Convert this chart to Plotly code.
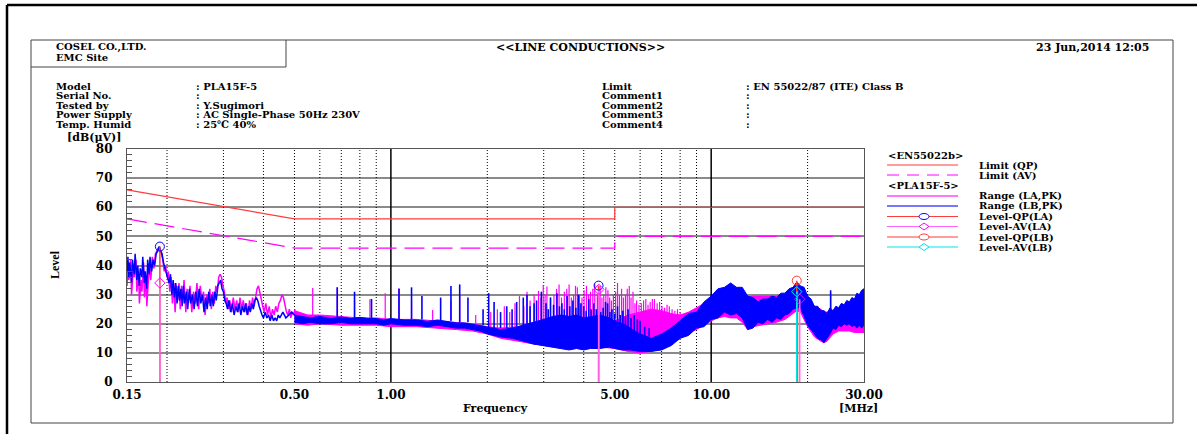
import math
import plotly.graph_objects as go

# ---------------- data ----------------
# limits EN55022 class B
lim_qp_f = [0.15, 0.5, 5.0, 5.0, 30.0]
lim_qp_v = [66, 56, 56, 60, 60]
lim_av_f = [0.15, 0.5, 5.0, 5.0, 30.0]
lim_av_v = [56, 46, 46, 50, 50]

# LB (blue) low-frequency trace 0.15-0.5 MHz
lb_zz_f = [0.150,0.151,0.152,0.153,0.155,0.156,0.158,0.159,0.161,0.162,
           0.164,0.165,0.167,0.168,0.170,0.171,0.173,0.174,0.176,0.177,
           0.179,0.181,0.183,0.185,0.187,0.189,0.191,0.193,0.195,0.197,
           0.199,0.201,0.203,0.205,0.207,0.209,0.211,0.213,0.215,0.217,
           0.219,0.221,0.223,0.225,0.227,0.230,0.232,0.235,0.237,0.240,
           0.243,0.246,0.249,0.252,0.255,0.258,0.261,0.264,0.267,0.270,
           0.273,0.276,0.279,0.282,0.285,0.288,0.291,0.294,0.297,0.300,
           0.303,0.306,0.309,0.312,0.316,0.320,0.324,0.328,0.332,0.336,
           0.340,0.344,0.348,0.352,0.356,0.360,0.364,0.368,0.372,0.376,
           0.380,0.384,0.388,0.392,0.396,0.400,0.405,0.410,0.415,0.420,
           0.425,0.430,0.435,0.440,0.445,0.450,0.460,0.470,0.480,0.490,
           0.500]
lb_zz_v = [38,43,36,41,34,42,37,44,35,40,
           33,39,36,43,34,38,32,42,37,43,
           38,42,40,44,45,46.5,45,44,41,39,
           37,36,34,37,30,35,29,34,27,33,
           28,32,26,33,27,31,25,32,27,30,
           25,31,26,32,27,30,24,29,25,31,
           26,30,26,31,28,33,34,35,32,31,
           28,27,25,28,24,27,23,26,24,27,
           23,26,24,27,23,26,24,27,25,28,
           29,28,26,24,23,22,24,22,23,21,
           23,21,22,21,23,22,24,22,23,24,
           23]

# LA (magenta) low-frequency trace 0.15-0.5 MHz
la_zz_f = [0.150,0.151,0.152,0.154,0.155,0.157,0.158,0.160,0.161,0.163,
           0.164,0.166,0.167,0.169,0.170,0.172,0.173,0.175,0.176,0.178,
           0.180,0.182,0.184,0.186,0.188,0.190,0.192,0.194,0.196,0.198,
           0.200,0.202,0.204,0.206,0.208,0.210,0.212,0.214,0.216,0.218,
           0.220,0.222,0.224,0.226,0.229,0.231,0.234,0.236,0.239,0.242,
           0.245,0.248,0.251,0.254,0.257,0.260,0.263,0.266,0.269,0.272,
           0.275,0.278,0.281,0.284,0.287,0.290,0.293,0.296,0.299,0.302,
           0.305,0.308,0.311,0.314,0.318,0.322,0.326,0.330,0.334,0.338,
           0.342,0.346,0.350,0.354,0.358,0.362,0.366,0.370,0.374,0.378,
           0.382,0.386,0.390,0.394,0.398,0.402,0.407,0.412,0.417,0.422,
           0.427,0.432,0.437,0.442,0.447,0.452,0.457,0.462,0.467,0.472,
           0.477,0.482,0.487,0.492,0.497,0.502]
la_zz_v = [33,40,35,42,30,39,36,42,31,38,
           27,35,31,41,29,36,26,34,40,35,
           43,39,44,45,46,46,44,42,38,40,
           36,38,31,36,27,34,24,33,28,34,
           25,33,27,35,24,32,28,33,24,31,
           27,34,25,33,28,31,23,30,27,32,
           25,31,27,33,31,36,37,36,33,31,
           27,29,25,28,24,29,25,28,24,29,
           25,28,24,27,23,28,25,29,26,30,
           32,33,31,28,26,24,27,23,26,22,
           25,23,26,24,27,28,30,29,26,24,
           23,25,22,24,23,25]

# LB (blue) dense band 0.5-30 MHz: low / high envelope
lb_band_f = [0.50,0.53,0.56,0.60,0.65,0.70,0.75,0.80,0.85,0.90,0.95,1.00,1.10,1.20,1.30,1.40,1.50,1.60,1.70,1.80,
             1.90,2.00,2.10,2.20,2.40,2.60,2.80,3.00,3.20,3.40,3.60,3.80,4.00,4.20,4.50,4.80,5.00,5.30,5.60,6.00,
             6.50,7.00,7.50,8.0,8.5,9.0,9.5,10.0,10.5,11.0,11.5,12.0,12.5,13.0,13.5,14.0,14.5,15.0,15.5,16.0,
             16.5,17.0,17.5,18.0,18.5,19.0,19.5,20.0,20.5,21.0,21.5,22.0,22.5,23.0,23.5,24.0,24.5,25.0,25.5,26.0,
             26.5,27.0,27.5,28.0,28.5,29.0,29.5,30.0]
lb_band_lo = [20.5,20,20.5,20,20,20.5,20,20,20,20,19.5,20,19.5,19.5,19,19.5,19,18.5,18.5,18,
              17.5,16.5,16,15.5,15,14,13,12.5,12,11.5,11,11.5,11,11.5,11.5,12,11.5,11,11,10.5,
              10.5,11,12.5,15,16,18.5,19,21.5,22,24,23,23.5,22,18,18.5,20.5,20,21.5,20.5,22,
              21.5,23,23.5,25,25.5,25.5,22.5,19.5,18,16.5,15,14.5,13.5,15,16.5,18.5,18,19.5,19,20,
              19.5,20,19,19.5,18.5,19.5,18.5,19.5]
lb_band_hi = [23,22.5,22,22.5,21.8,22.3,21.8,22.2,21.8,21.8,21.3,21.8,21.3,21.3,20.8,21.3,20.8,20.3,20.3,19.8,
              19.3,19,18.5,18,18.5,19.5,20.5,21.5,22.5,23,22.5,23,22,22.5,23,22,21,20,18.5,16.5,
              15,16.5,18.5,21,23.5,24,27.5,29.5,32,32.5,34,32.5,32.5,29.5,29,27.5,28.5,28.5,29.5,29,
              30.5,30.5,32,32.5,34.3,33,32.5,29.5,28.5,26,26,24.5,24.5,23.5,25.5,24.5,26,25.5,27,26.5,
              28,27.5,29,28.5,30.5,30,31.5,32]

# LA (magenta) dense band 0.5-30 MHz
la_band_f = [0.50,0.55,0.60,0.70,0.80,0.90,1.00,1.20,1.40,1.60,1.80,2.00,2.20,2.50,2.80,3.00,3.50,4.00,4.50,5.00,
             5.50,6.00,6.50,7.00,7.50,8.00,8.50,9.00,9.50,10.0,10.5,11.0,11.5,12.0,12.5,13.0,13.5,14.0,15.0,16.0,
             17.0,18.0,18.5,19.0,20.0,21.0,22.0,22.5,23.0,24.0,25.0,26.0,27.0,28.0,29.0,30.0]
la_band_lo = [20,19.5,20,19.5,19.5,19.5,19,19,18.5,18,17.5,16.5,15,14,13,12.5,12,11.5,12,11.5,
              10.5,10,10.5,11.5,13,15,17,18,19.5,21,22,22.5,22,22,20.5,18,19,19.5,20,20.5,
              21.5,23.5,24.5,24,19,15.5,14,13.5,14,16.5,17.5,17.5,17.5,17,17,17]
la_band_hi = [24.5,23,23,22.5,22,22,21.5,21.5,21,20.5,20,19,18.5,19,20,21,21,21,21.5,21,
              23,24,25,24.5,23.5,23,24,25.5,27,29,30.5,31.5,32,31.5,30.5,29,29.5,29.5,29.5,29.5,
              30,31.5,32,31.5,28.5,26,25,24,24,24.5,25,25.5,26.5,27.5,28.5,29.5]

# narrow-band spikes (frequency, top, bottom)
lb_spk_f = [0.68,0.77,0.87,1.06,1.16,1.25,1.43,1.54,1.64,1.74,1.94,
            2.02,2.10,2.20,2.30,2.39,2.47,2.59,2.66,2.72,2.80,2.85,2.95,3.05,3.10,3.15,3.22,3.30,3.36,
            3.42,3.48,3.55,3.62,3.70,3.78,3.85,3.92,4.00,4.07,4.15,4.22,4.30,4.38,4.45,4.52,4.60,4.68,
            4.75,4.83,4.90,5.00,5.10,5.20,5.30,5.40,5.50,5.62,5.75,5.88,6.00,6.20,6.40,23.6]
lb_spk_top = [32.5,31,28.5,32,32.5,29.5,29,33,33.5,29,25,
              30.5,27.5,24,26,25,27.5,29,30,26,27,28,31,27,25,29,26.5,30.5,26,
              27,25,29.5,26,28,25.5,30,27,26,24.5,28.5,25,27,25,29,24,25.5,27.5,
              27,24,25,23.5,26,23,24.5,22.5,25,22,23,21.5,21,19,18.5,31.5]
lb_spk_bot = [22,22,22,21.5,21.5,21.5,21,21,20.5,20.5,19.5,
              18.5,18.5,18.5,18.5,18.5,19,19,19,19,19.5,20,20,20,20,20,21,21,21,
              21,21,21,21,21,21,21,21,21,21,21,21,21,21,21,21,21,21,
              21,20.5,20.5,20,19.5,19.5,19,18.5,18.5,17.5,17.5,17,16,15.5,15.5,25]

la_spk_f = [0.57,0.68,0.77,0.86,0.96,1.06,1.16,1.35,1.54,1.64,1.84,
            2.05,2.15,2.26,2.35,2.44,2.52,2.60,2.66,2.72,2.80,2.89,2.94,2.99,3.03,3.07,3.15,3.23,3.29,
            3.35,3.41,3.48,3.54,3.60,3.66,3.72,3.77,3.82,3.88,3.95,4.01,4.08,4.14,4.20,4.27,4.33,4.41,
            4.50,4.56,4.62,4.69,4.76,4.82,4.88,4.95,5.03,5.10,5.17,5.25,5.32,5.40,5.47,5.55,5.62,5.70,
            5.78,5.85,5.95,6.05,6.15,6.25,6.35,6.45,6.55,6.65,6.78,6.90,7.02,7.15,7.28,7.40,7.55,7.70,
            7.85,8.00,23.6]
la_spk_top = [32.3,32.5,28,28.4,30.5,32.2,28,24.7,28,30,23,
              24,25,26,24,27,29.5,26,31,28,30,31.3,29,33.3,30,32.8,29,30,32,
              33.5,29,31,32,33.5,29,30,33,32.5,30,29,31.5,33,30,31,32,33.8,30,
              33,29,30,32.5,31.5,29,28,30,31,34,30,32,29,30,32,33,29,31,
              27,28,26.5,27,28,28.5,26.5,27.5,28.5,28.5,27,27.5,26,25.5,26.5,26,25,24.5,
              25,24,30.5]
la_spk_bot = [22.5,22,22,22,21.5,21.5,21.5,21,21,20.5,20,
              18.5,18.5,18.5,18.5,18.5,19.5,19.5,19.5,19.5,19.5,20.5,20.5,20.5,21,21,21,21,21,
              21,21,21,21,21,21,21,21,21,21,21,21,21,21,21,21,21,21,
              21.5,21.5,21.5,21.5,21.5,21.5,21.5,21.5,22,22,22,22,22,22,22,23,23,23.5,
              23.5,23.5,23.5,24,24,24.5,24.5,25,25,25,24.5,24.5,24,24,23.5,23.5,23.5,23.5,
              23,23,24]

# measured levels
qp_la_f = [0.19, 4.45, 18.6]
qp_la_v = [46.5, 33.1, 31.4]
av_la_f = [0.19, 4.46, 18.9]
av_la_v = [34.0, 31.8, 28.4]
qp_lb_f = [18.5]
qp_lb_v = [34.8]
av_lb_f = [18.5]
av_lb_v = [31.0]

x_tick_vals = [0.15, 0.5, 1.0, 5.0, 10.0, 30.0]
x_tick_text = ["0.15", "0.50", "1.00", "5.00", "10.00", "30.00"]
grid_minor_f = [0.2, 0.3, 0.4, 0.5, 0.6, 0.7, 0.8, 0.9, 2, 3, 4, 5, 6, 7, 8, 9, 20]
grid_major_f = [1.0, 10.0]

# ---------------- layout helpers ----------------
W, H = 1197, 434
L, R, T, B = 127, 864, 149, 382
FONT = "DejaVu Serif"
FS = 10

def px(x):
    return (x - L) / (R - L)

def py(y):
    return (B - y) / (B - T)

RED = "#ff3b3b"
MAG = "#ff00ff"
BLUE = "#0000ff"
CYAN = "#00e5e5"

fig = go.Figure()

def vsegs(fs, lo, hi):
    xs, ys = [], []
    for f, a, b in zip(fs, lo, hi):
        xs += [f, f, None]
        ys += [a, b, None]
    return xs, ys

# grid lines
gx, gy = vsegs(grid_minor_f, [0] * len(grid_minor_f), [80] * len(grid_minor_f))
fig.add_trace(go.Scatter(x=gx, y=gy, mode="lines", line=dict(color="#000", width=1, dash="1px,2px"), hoverinfo="skip"))
gx, gy = vsegs(grid_major_f, [0, 0], [80, 80])
fig.add_trace(go.Scatter(x=gx, y=gy, mode="lines", line=dict(color="#000", width=1.5), hoverinfo="skip"))

# limits
fig.add_trace(go.Scatter(x=lim_qp_f, y=lim_qp_v, mode="lines", line=dict(color=RED, width=1.2)))
fig.add_trace(go.Scatter(x=lim_av_f, y=lim_av_v, mode="lines", line=dict(color=MAG, width=1.2, dash="20px,8px")))

def band(fs, lo, hi, color):
    return go.Scatter(x=list(fs) + list(fs)[::-1], y=list(hi) + list(lo)[::-1], mode="lines",
                      fill="toself", fillcolor=color, line=dict(color=color, width=1), hoverinfo="skip")

# LA magenta
fig.add_trace(band(la_band_f, la_band_lo, la_band_hi, MAG))
fig.add_trace(go.Scatter(x=la_zz_f, y=la_zz_v, mode="lines", line=dict(color=MAG, width=1.5)))
sx, sy = vsegs(la_spk_f, la_spk_bot, la_spk_top)
fig.add_trace(go.Scatter(x=sx, y=sy, mode="lines", line=dict(color=MAG, width=1.2)))

# LB blue
fig.add_trace(band(lb_band_f, lb_band_lo, lb_band_hi, BLUE))
fig.add_trace(go.Scatter(x=lb_zz_f, y=lb_zz_v, mode="lines", line=dict(color=BLUE, width=1.5)))
sx, sy = vsegs(lb_spk_f, lb_spk_bot, lb_spk_top)
fig.add_trace(go.Scatter(x=sx, y=sy, mode="lines", line=dict(color=BLUE, width=1.6)))

# level marker lines
for fs, vs, col in [(qp_la_f, qp_la_v, RED), (qp_lb_f, qp_lb_v, RED), (av_la_f, av_la_v, "#ff66ff"), (av_lb_f, av_lb_v, CYAN)]:
    sx, sy = vsegs(fs, [0] * len(fs), vs)
    fig.add_trace(go.Scatter(x=sx, y=sy, mode="lines", line=dict(color=col, width=1.5)))

fig.add_trace(go.Scatter(x=qp_la_f, y=qp_la_v, mode="markers", marker=dict(symbol="circle-open", size=9, color=BLUE, line=dict(width=1))))
fig.add_trace(go.Scatter(x=av_la_f, y=av_la_v, mode="markers", marker=dict(symbol="diamond-open", size=8, color=MAG, line=dict(width=1))))
fig.add_trace(go.Scatter(x=qp_lb_f, y=qp_lb_v, mode="markers", marker=dict(symbol="circle-open", size=9, color=RED, line=dict(width=1))))
fig.add_trace(go.Scatter(x=av_lb_f, y=av_lb_v, mode="markers", marker=dict(symbol="diamond-open", size=8, color=CYAN, line=dict(width=1))))

tfont = dict(family=FONT, size=12, color="#000", weight="bold")

fig.update_layout(
    width=W, height=H, autosize=False, showlegend=False,
    margin=dict(l=L, r=W - R, t=T, b=H - B, pad=0),
    paper_bgcolor="white", plot_bgcolor="white",
    font=tfont,
    xaxis=dict(type="log", range=[math.log10(0.15), math.log10(30)], tickvals=x_tick_vals, ticktext=x_tick_text,
               showgrid=False, zeroline=False, showline=True, mirror=True, linecolor="#555", linewidth=1.2,
               ticks="", tickfont=tfont, ticklabelstandoff=1),
    yaxis=dict(range=[0, 80], dtick=10, showgrid=True, gridcolor="#8a8a8a", gridwidth=1.5, zeroline=False,
               showline=True, mirror=True, linecolor="#555", linewidth=1.2, ticks="", tickfont=tfont,
               ticklabelstandoff=11,
               minor=dict(dtick=2, ticks="inside", ticklen=5, tickcolor="#555", showgrid=False)),
)

shapes = []
anns = []

def line(x0, y0, x1, y1, color="#000", width=1, dash=None):
    d = dict(type="line", xref="paper", yref="paper", x0=px(x0), y0=py(y0), x1=px(x1), y1=py(y1),
             line=dict(color=color, width=width))
    if dash:
        d["line"]["dash"] = dash
    shapes.append(d)

def text(x, y, s, anchor="left", size=FS, bold=True, family=FONT, angle=0):
    f = dict(family=family, size=size, color="#000")
    if bold:
        f["weight"] = "bold"
    anns.append(dict(x=px(x), y=py(y), xref="paper", yref="paper", text=s, showarrow=False,
                     xanchor=anchor, yanchor="middle", font=f, textangle=angle, borderpad=0))

# outer frame
line(7, 5, 1197, 5, width=2.5)
line(7, 5, 7, 434, width=2.5)
# inner report box
shapes.append(dict(type="rect", xref="paper", yref="paper", x0=px(31), y0=py(40), x1=px(1173), y1=py(423),
                   line=dict(color="#444", width=1)))
line(286, 40, 286, 67, color="#444")
line(31, 67, 286, 67, color="#444")

# header text
text(55, 47, "COSEL CO.,LTD.")
text(55, 57, "EMC Site")
text(580, 47, "&lt;&lt;LINE CONDUCTIONS&gt;&gt;", anchor="center", size=11)
text(1150, 47, "23 Jun,2014 12:05", anchor="right", size=11)

rows_l = ["Model", "Serial No.", "Tested by", "Power Supply", "Temp. Humid"]
vals_l = [": PLA15F-5", ":", ": Y.Sugimori", ": AC Single-Phase 50Hz 230V", ": 25℃ 40%"]
rows_r = ["Limit", "Comment1", "Comment2", "Comment3", "Comment4"]
vals_r = [": EN 55022/87 (ITE) Class B", ":", ":", ":", ":"]
row_y = [86, 95.5, 105, 114.5, 124]
for i, yy in enumerate(row_y):
    text(55, yy, rows_l[i])
    text(195, yy, vals_l[i])
    text(601, yy, rows_r[i])
    text(745, yy, vals_r[i])

text(66, 138, "[dB(μV)]", size=11)
text(55, 265, "Level", bold=False, family="Liberation Serif", size=12, anchor="center", angle=-90)
text(495, 408, "Frequency", anchor="center", size=11)
text(838, 408, "[MHz]", size=11)

# legend
lx0, lx1, lxm, ltx = 887, 958, 924, 978
text(887, 155, "&lt;EN55022b&gt;")
text(887, 185, "&lt;PLA15F-5&gt;")
leg = [
    (165, "Limit (QP)", RED, None, None),
    (175, "Limit (AV)", MAG, "12px,8px", None),
    (196, "Range (LA,PK)", "#ff77ff", None, None),
    (206, "Range (LB,PK)", "#7777ff", None, None),
    (216.5, "Level-QP(LA)", RED, None, ("ellipse", BLUE)),
    (226.5, "Level-AV(LA)", "#ff66ff", None, ("diamond", MAG)),
    (237, "Level-QP(LB)", RED, None, ("ellipse", RED)),
    (247, "Level-AV(LB)", CYAN, None, ("diamond", CYAN)),
]
for yy, lab, col, dash, mk in leg:
    w = 2 if lab.startswith("Range") else 1
    line(lx0, yy, lx1, yy, color=col, width=w, dash=dash)
    text(ltx, yy, lab)
    if mk:
        kind, mc = mk
        if kind == "ellipse":
            shapes.append(dict(type="circle", xref="paper", yref="paper", x0=px(lxm - 5), x1=px(lxm + 5),
                               y0=py(yy - 3), y1=py(yy + 3), line=dict(color=mc, width=1), fillcolor="white"))
        else:
            path = "M {} {} L {} {} L {} {} L {} {} Z".format(px(lxm - 5), py(yy), px(lxm), py(yy - 3.5),
                                                           px(lxm + 5), py(yy), px(lxm), py(yy + 3.5))
            shapes.append(dict(type="path", xref="paper", yref="paper", path=path,
                               line=dict(color=mc, width=1), fillcolor="white"))

fig.update_layout(shapes=shapes, annotations=anns)
fig.write_html("out.html", config={"displayModeBar": False},
               post_script="document.body.style.margin='0px';document.body.style.overflow='hidden';")
